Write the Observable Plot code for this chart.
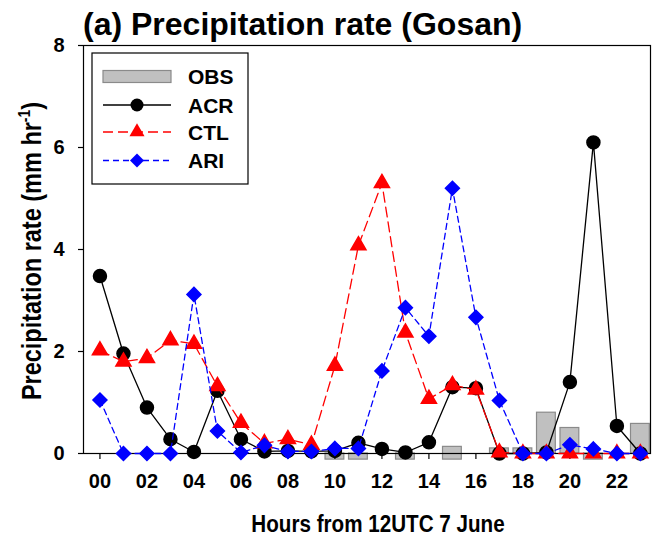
<!DOCTYPE html>
<html>
<head>
<meta charset="utf-8">
<script src="https://cdn.jsdelivr.net/npm/d3@7"></script>
<script src="https://cdn.jsdelivr.net/npm/@observablehq/plot@0.6"></script>
<style>
  html, body { margin: 0; padding: 0; background: #fff; }
  #chart { position: relative; width: 653px; height: 543px; }
</style>
</head>
<body>
<div id="chart"></div>
<script>
// ---- data ----
const hours = [0,1,2,3,4,5,6,7,8,9,10,11,12,13,14,15,16,17,18,19,20,21,22,23];
const tickHours = [0,2,4,6,8,10,12,14,16,18,20,22];
const tickLabels = ["00","02","04","06","08","10","12","14","16","18","20","22"];
const yTicks = [0,2,4,6,8];

const acr = [3.48,1.96,0.9,0.28,0.03,1.23,0.28,0.04,0.05,0.04,0.05,0.21,0.09,0.02,0.22,1.3,1.28,0.0,0.0,0.02,1.4,6.1,0.54,0.0];
const ctl = [2.02,1.8,1.87,2.22,2.15,1.32,0.6,0.2,0.28,0.17,1.72,4.08,5.3,2.37,1.07,1.34,1.25,0.02,0.0,0.0,0.0,0.0,0.0,0.0];
const ari = [1.05,0.0,0.0,0.0,3.12,0.44,0.02,0.16,0.04,0.04,0.1,0.1,1.62,2.86,2.3,5.2,2.67,1.04,0.0,0.0,0.17,0.09,0.0,0.0];
// OBS bars: bottom and top of each drawn bar (null = no bar)
const obsLow  = [null,null,null,null,null,null,null,null,null,null,-0.12,-0.12,null,-0.12,null,-0.12,null,0,0,0,0,-0.12,null,0];
const obsHigh = [null,null,null,null,null,null,null,null,null,null,0,0,null,0,null,0.13,null,0.1,0.1,0.8,0.5,0,null,0.58];

const seriesNames = ["OBS","ACR","CTL","ARI"];

// ---- build tables ----
const obs = hours.map((h,i) => ({hour:h, low:obsLow[i], high:obsHigh[i]})).filter(d => d.high !== null);
const mk = arr => hours.map((h,i) => ({hour:h, value:arr[i]}));
const acrData = mk(acr), ctlData = mk(ctl), ariData = mk(ari);

const FONT = "'Liberation Sans', Arial, sans-serif";

const plot = Plot.plot({
  width: 653,
  height: 543,
  marginTop: 45,
  marginBottom: 90,
  marginLeft: 83,
  marginRight: 3,
  style: {fontFamily: FONT, fontSize: "20px", fontWeight: "bold", color: "black", background: "white"},
  x: {domain: [-0.7, 23.43]},
  y: {domain: [0, 8]},
  marks: [
    Plot.rect(obs, {x1: d => d.hour - 0.4, x2: d => d.hour + 0.4, y1: "low", y2: "high", fill: "#c0c0c0", stroke: "#8a8a8a", strokeWidth: 1.2}),
    Plot.frame({stroke: "black", strokeWidth: 1.2}),
    Plot.axisX({ticks: tickHours, tickFormat: (d) => tickLabels[tickHours.indexOf(d)], tickSize: 6, tickPadding: 14, label: null, stroke: "black", strokeWidth: 1.2}),
    Plot.axisY({ticks: yTicks, tickSize: 5, tickPadding: 14, label: null, stroke: "black", strokeWidth: 1.2}),
    Plot.line(acrData, {x: "hour", y: "value", stroke: "black", strokeWidth: 1.3}),
    Plot.dot(acrData, {x: "hour", y: "value", r: 6.5, fill: "black", stroke: "black", symbol: "circle"}),
    Plot.line(ctlData, {x: "hour", y: "value", stroke: "#ff0000", strokeWidth: 1.3, strokeDasharray: "10,5"}),
    Plot.dot(ctlData, {x: "hour", y: "value", r: 5.6, fill: "#ff0000", stroke: "#ff0000", symbol: "triangle"}),
    Plot.line(ariData, {x: "hour", y: "value", stroke: "#0000ff", strokeWidth: 1.3, strokeDasharray: "6,4"}),
    Plot.dot(ariData, {x: "hour", y: "value", r: 6.3, fill: "#0000ff", stroke: "#0000ff", symbol: "diamond2"})
  ]
});

document.getElementById("chart").appendChild(plot);

// ---- texts and legend ----
const svg = d3.select(plot);
svg.append("text")
  .attr("x", 83).attr("y", 35)
  .attr("text-anchor", "start")
  .attr("font-family", FONT).attr("font-size", 32).attr("font-weight", "bold")
  .attr("fill", "black")
  .text("(a) Precipitation rate (Gosan)");

svg.append("text")
  .attr("transform", "translate(378,532) scale(0.86,1)")
  .attr("text-anchor", "middle")
  .attr("font-family", FONT).attr("font-size", 24).attr("font-weight", "bold")
  .attr("fill", "black")
  .text("Hours from 12UTC 7 June");

const yl = svg.append("text")
  .attr("transform", "translate(41,251) rotate(-90) scale(0.87,1)")
  .attr("text-anchor", "middle")
  .attr("font-family", FONT).attr("font-size", 27).attr("font-weight", "bold")
  .attr("fill", "black");
yl.append("tspan").text("Precipitation rate (mm hr");
yl.append("tspan").attr("font-size", 16).attr("dy", -11).text("-1");
yl.append("tspan").attr("dy", 11).text(")");

// legend
const lg = svg.append("g");
lg.append("rect").attr("x", 92).attr("y", 53).attr("width", 156).attr("height", 131)
  .attr("fill", "white").attr("stroke", "black").attr("stroke-width", 1.2);
const rowY = [76.5, 105, 132, 160.5];
const lx1 = 103, lx2 = 171, lmx = 137, ltx = 188;
// OBS
lg.append("rect").attr("x", lx1).attr("y", rowY[0] - 6).attr("width", lx2 - lx1).attr("height", 12)
  .attr("fill", "#c0c0c0").attr("stroke", "#8a8a8a").attr("stroke-width", 1.2);
// ACR
lg.append("line").attr("x1", lx1).attr("x2", lx2).attr("y1", rowY[1]).attr("y2", rowY[1]).attr("stroke", "black").attr("stroke-width", 1.3);
lg.append("circle").attr("cx", lmx).attr("cy", rowY[1]).attr("r", 6.5).attr("fill", "black");
// CTL
lg.append("line").attr("x1", lx1).attr("x2", lx2).attr("y1", rowY[2]).attr("y2", rowY[2]).attr("stroke", "#ff0000").attr("stroke-width", 1.3).attr("stroke-dasharray", "10,5");
lg.append("path").attr("d", d3.symbol(d3.symbolTriangle, Math.PI * 5.6 * 5.6)()).attr("transform", `translate(${lmx},${rowY[2]})`).attr("fill", "#ff0000");
// ARI
lg.append("line").attr("x1", lx1).attr("x2", lx2).attr("y1", rowY[3]).attr("y2", rowY[3]).attr("stroke", "#0000ff").attr("stroke-width", 1.3).attr("stroke-dasharray", "6,4");
lg.append("path").attr("d", d3.symbol(d3.symbolDiamond2, Math.PI * 6.3 * 6.3)()).attr("transform", `translate(${lmx},${rowY[3]})`).attr("fill", "#0000ff");
seriesNames.forEach((name, i) => {
  lg.append("text").attr("x", ltx).attr("y", rowY[i]).attr("dy", "0.36em")
    .attr("text-anchor", "start")
    .attr("font-family", FONT).attr("font-size", 21).attr("font-weight", "bold").attr("fill", "black")
    .text(name);
});
</script>
</body>
</html>
